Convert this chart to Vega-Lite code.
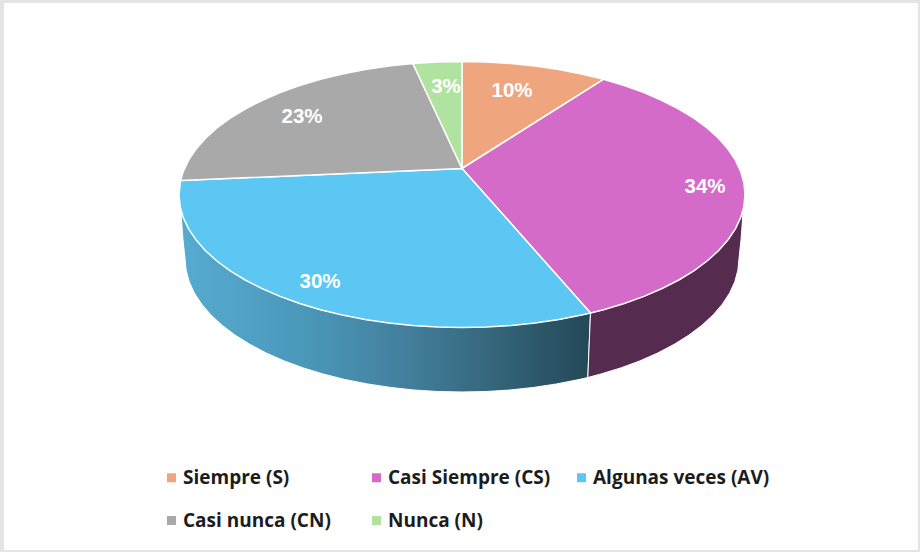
{
"$schema":"https://vega.github.io/schema/vega-lite/v6.json",
"width":914,"height":547,
"autosize":{"type":"none"},
"padding":{"left":4,"top":3,"right":2,"bottom":2},
"background":"#e4e4e4",
"view":{"fill":"white","stroke":null},
"datasets":{
"sideBlue":[
{"i":0,"x":181,"y":213},{"i":1,"x":183,"y":240},{"i":2,"x":185,"y":258.5},{"i":3,"x":186.1,"y":270.1},{"i":4,"x":189.2,"y":281.7},{"i":5,"x":194.4,"y":293.1},{"i":6,"x":201.7,"y":304.2},{"i":7,"x":210.9,"y":314.9},{"i":8,"x":222.1,"y":325.3},{"i":9,"x":235.1,"y":335.1},{"i":10,"x":249.8,"y":344.3},{"i":11,"x":266.1,"y":352.9},{"i":12,"x":283.9,"y":360.8},{"i":13,"x":303.1,"y":367.9},{"i":14,"x":323.5,"y":374.1},{"i":15,"x":344.9,"y":379.5},{"i":16,"x":367.3,"y":383.9},{"i":17,"x":390.3,"y":387.4},{"i":18,"x":413.9,"y":390},{"i":19,"x":437.8,"y":391.5},{"i":20,"x":462,"y":392},{"i":21,"x":486.2,"y":391.5},{"i":22,"x":510.1,"y":390},{"i":23,"x":533.7,"y":387.4},{"i":24,"x":556.7,"y":383.9},{"i":25,"x":579.1,"y":379.5},{"i":26,"x":587.8,"y":377.5},{"i":27,"x":590.5,"y":313},{"i":28,"x":558.8,"y":319.5},{"i":29,"x":511.1,"y":325.5},{"i":30,"x":462,"y":327.5},{"i":31,"x":412.9,"y":325.5},{"i":32,"x":365.2,"y":319.5},{"i":33,"x":320.5,"y":309.7},{"i":34,"x":280.1,"y":296.4},{"i":35,"x":245.2,"y":280},{"i":36,"x":216.9,"y":261},{"i":37,"x":196.1,"y":240},{"i":38,"x":181,"y":213}
],
"sidePurple":[
{"i":0,"x":590.5,"y":313},{"i":1,"x":587.8,"y":377.5},{"i":2,"x":600.5,"y":374.1},{"i":3,"x":620.9,"y":367.9},{"i":4,"x":640.1,"y":360.8},{"i":5,"x":657.9,"y":352.9},{"i":6,"x":674.2,"y":344.3},{"i":7,"x":688.9,"y":335.1},{"i":8,"x":701.9,"y":325.3},{"i":9,"x":713.1,"y":314.9},{"i":10,"x":722.3,"y":304.2},{"i":11,"x":729.6,"y":293.1},{"i":12,"x":734.8,"y":281.7},{"i":13,"x":737.9,"y":270.1},{"i":14,"x":739,"y":258.5},{"i":15,"x":741,"y":240},{"i":16,"x":743,"y":213},{"i":17,"x":727.9,"y":240},{"i":18,"x":707.1,"y":261},{"i":19,"x":678.8,"y":280},{"i":20,"x":643.9,"y":296.4},{"i":21,"x":603.5,"y":309.7},{"i":22,"x":590.5,"y":313}
],
"top":[
{"slice":"Siempre (S)","i":0,"x":462,"y":168.5},{"slice":"Siempre (S)","i":1,"x":462,"y":61.5},{"slice":"Siempre (S)","i":2,"x":486.7,"y":62},{"slice":"Siempre (S)","i":3,"x":511.1,"y":63.5},{"slice":"Siempre (S)","i":4,"x":535.2,"y":66},{"slice":"Siempre (S)","i":5,"x":558.8,"y":69.5},{"slice":"Siempre (S)","i":6,"x":581.6,"y":74},{"slice":"Siempre (S)","i":7,"x":603.5,"y":79.3},{"slice":"Siempre (S)","i":8,"x":462,"y":168.5},
{"slice":"Casi Siempre (CS)","i":0,"x":462,"y":168.5},{"slice":"Casi Siempre (CS)","i":1,"x":603.5,"y":79.3},{"slice":"Casi Siempre (CS)","i":2,"x":624.3,"y":85.5},{"slice":"Casi Siempre (CS)","i":3,"x":643.9,"y":92.6},{"slice":"Casi Siempre (CS)","i":4,"x":662.1,"y":100.5},{"slice":"Casi Siempre (CS)","i":5,"x":678.8,"y":109},{"slice":"Casi Siempre (CS)","i":6,"x":693.8,"y":118.2},{"slice":"Casi Siempre (CS)","i":7,"x":707.1,"y":128},{"slice":"Casi Siempre (CS)","i":8,"x":718.5,"y":138.3},{"slice":"Casi Siempre (CS)","i":9,"x":727.9,"y":149},{"slice":"Casi Siempre (CS)","i":10,"x":735.4,"y":160.1},{"slice":"Casi Siempre (CS)","i":11,"x":740.7,"y":171.4},{"slice":"Casi Siempre (CS)","i":12,"x":743.9,"y":182.9},{"slice":"Casi Siempre (CS)","i":13,"x":745,"y":194.5},{"slice":"Casi Siempre (CS)","i":14,"x":743.9,"y":206.1},{"slice":"Casi Siempre (CS)","i":15,"x":740.7,"y":217.6},{"slice":"Casi Siempre (CS)","i":16,"x":735.4,"y":228.9},{"slice":"Casi Siempre (CS)","i":17,"x":727.9,"y":240},{"slice":"Casi Siempre (CS)","i":18,"x":718.5,"y":250.7},{"slice":"Casi Siempre (CS)","i":19,"x":707.1,"y":261},{"slice":"Casi Siempre (CS)","i":20,"x":693.8,"y":270.8},{"slice":"Casi Siempre (CS)","i":21,"x":678.8,"y":280},{"slice":"Casi Siempre (CS)","i":22,"x":662.1,"y":288.5},{"slice":"Casi Siempre (CS)","i":23,"x":643.9,"y":296.4},{"slice":"Casi Siempre (CS)","i":24,"x":624.3,"y":303.5},{"slice":"Casi Siempre (CS)","i":25,"x":603.5,"y":309.7},{"slice":"Casi Siempre (CS)","i":26,"x":590.5,"y":313},{"slice":"Casi Siempre (CS)","i":27,"x":462,"y":168.5},
{"slice":"Algunas veces (AV)","i":0,"x":462,"y":168.5},{"slice":"Algunas veces (AV)","i":1,"x":590.5,"y":313},{"slice":"Algunas veces (AV)","i":2,"x":581.6,"y":315},{"slice":"Algunas veces (AV)","i":3,"x":558.8,"y":319.5},{"slice":"Algunas veces (AV)","i":4,"x":535.2,"y":323},{"slice":"Algunas veces (AV)","i":5,"x":511.1,"y":325.5},{"slice":"Algunas veces (AV)","i":6,"x":486.7,"y":327},{"slice":"Algunas veces (AV)","i":7,"x":462,"y":327.5},{"slice":"Algunas veces (AV)","i":8,"x":437.3,"y":327},{"slice":"Algunas veces (AV)","i":9,"x":412.9,"y":325.5},{"slice":"Algunas veces (AV)","i":10,"x":388.8,"y":323},{"slice":"Algunas veces (AV)","i":11,"x":365.2,"y":319.5},{"slice":"Algunas veces (AV)","i":12,"x":342.4,"y":315},{"slice":"Algunas veces (AV)","i":13,"x":320.5,"y":309.7},{"slice":"Algunas veces (AV)","i":14,"x":299.7,"y":303.5},{"slice":"Algunas veces (AV)","i":15,"x":280.1,"y":296.4},{"slice":"Algunas veces (AV)","i":16,"x":261.9,"y":288.5},{"slice":"Algunas veces (AV)","i":17,"x":245.2,"y":280},{"slice":"Algunas veces (AV)","i":18,"x":230.2,"y":270.8},{"slice":"Algunas veces (AV)","i":19,"x":216.9,"y":261},{"slice":"Algunas veces (AV)","i":20,"x":205.5,"y":250.7},{"slice":"Algunas veces (AV)","i":21,"x":196.1,"y":240},{"slice":"Algunas veces (AV)","i":22,"x":188.6,"y":228.9},{"slice":"Algunas veces (AV)","i":23,"x":183.3,"y":217.6},{"slice":"Algunas veces (AV)","i":24,"x":180.1,"y":206.1},{"slice":"Algunas veces (AV)","i":25,"x":179,"y":194.5},{"slice":"Algunas veces (AV)","i":26,"x":180.6,"y":180.6},{"slice":"Algunas veces (AV)","i":27,"x":462,"y":168.5},
{"slice":"Casi nunca (CN)","i":0,"x":462,"y":168.5},{"slice":"Casi nunca (CN)","i":1,"x":180.6,"y":180.6},{"slice":"Casi nunca (CN)","i":2,"x":183.3,"y":171.4},{"slice":"Casi nunca (CN)","i":3,"x":188.6,"y":160.1},{"slice":"Casi nunca (CN)","i":4,"x":196.1,"y":149},{"slice":"Casi nunca (CN)","i":5,"x":205.5,"y":138.3},{"slice":"Casi nunca (CN)","i":6,"x":216.9,"y":128},{"slice":"Casi nunca (CN)","i":7,"x":230.2,"y":118.2},{"slice":"Casi nunca (CN)","i":8,"x":245.2,"y":109},{"slice":"Casi nunca (CN)","i":9,"x":261.9,"y":100.5},{"slice":"Casi nunca (CN)","i":10,"x":280.1,"y":92.6},{"slice":"Casi nunca (CN)","i":11,"x":299.7,"y":85.5},{"slice":"Casi nunca (CN)","i":12,"x":320.5,"y":79.3},{"slice":"Casi nunca (CN)","i":13,"x":342.4,"y":74},{"slice":"Casi nunca (CN)","i":14,"x":365.2,"y":69.5},{"slice":"Casi nunca (CN)","i":15,"x":388.8,"y":66},{"slice":"Casi nunca (CN)","i":16,"x":412.9,"y":63.5},{"slice":"Casi nunca (CN)","i":17,"x":462,"y":168.5},
{"slice":"Nunca (N)","i":0,"x":462,"y":168.5},{"slice":"Nunca (N)","i":1,"x":412.9,"y":63.5},{"slice":"Nunca (N)","i":2,"x":437.3,"y":62},{"slice":"Nunca (N)","i":3,"x":462,"y":61.5},{"slice":"Nunca (N)","i":4,"x":462,"y":168.5}
],
"labels":[
{"slice":"Siempre (S)","label":"10%","x":512,"y":91},
{"slice":"Casi Siempre (CS)","label":"34%","x":705,"y":187},
{"slice":"Algunas veces (AV)","label":"30%","x":320,"y":282},
{"slice":"Casi nunca (CN)","label":"23%","x":302,"y":117},
{"slice":"Nunca (N)","label":"3%","x":446,"y":87}
]
},
"layer":[
{"data":{"name":"sideBlue"},
 "mark":{"type":"line","fill":{"gradient":"linear","x1":0,"y1":0,"x2":1,"y2":0,"stops":[{"offset":0,"color":"#56abd0"},{"offset":0.3,"color":"#4a98ba"},{"offset":0.55,"color":"#437f9c"},{"offset":0.72,"color":"#386b81"},{"offset":1,"color":"#234857"}]},"stroke":"#ffffff","strokeWidth":1},
 "encoding":{"x":{"field":"x","type":"quantitative","scale":{"domain":[4,918],"nice":false,"zero":false},"axis":null},"y":{"field":"y","type":"quantitative","scale":{"domain":[550,3],"nice":false,"zero":false},"axis":null},"order":{"field":"i"}}},
{"data":{"name":"sidePurple"},
 "mark":{"type":"line","fill":"#552c4f","stroke":"#ffffff","strokeWidth":1},
 "encoding":{"x":{"field":"x","type":"quantitative","axis":null},"y":{"field":"y","type":"quantitative","axis":null},"order":{"field":"i"}}},
{"data":{"name":"top"},
 "mark":{"type":"line","stroke":"#ffffff","strokeWidth":1.5,"strokeJoin":"round"},
 "encoding":{"x":{"field":"x","type":"quantitative","axis":null},"y":{"field":"y","type":"quantitative","axis":null},"order":{"field":"i"},
  "fill":{"field":"slice","type":"nominal","scale":{"domain":["Siempre (S)","Casi Siempre (CS)","Algunas veces (AV)","Casi nunca (CN)","Nunca (N)"],"range":["#efa67f","#d46bc8","#5bc7f2","#a9a9a9","#b0e3a0"]},
   "legend":{"title":null,"orient":"none","direction":"horizontal","legendX":158,"legendY":465,"columns":3,"gridAlign":"all","columnPadding":7,"rowPadding":23,"symbolType":"square","symbolSize":81,"symbolStrokeWidth":0,"labelFont":"Open Sans","labelFontWeight":"bold","labelFontSize":19,"labelColor":"#1c1c1c","labelLimit":240,"labelOffset":2}}}},
{"data":{"name":"labels"},
 "mark":{"type":"text","font":"Liberation Sans","fontWeight":"bold","fontSize":20.5,"color":"#ffffff","align":"center","baseline":"middle"},
 "encoding":{"x":{"field":"x","type":"quantitative","axis":null},"y":{"field":"y","type":"quantitative","axis":null},"text":{"field":"label"}}}
]
}
